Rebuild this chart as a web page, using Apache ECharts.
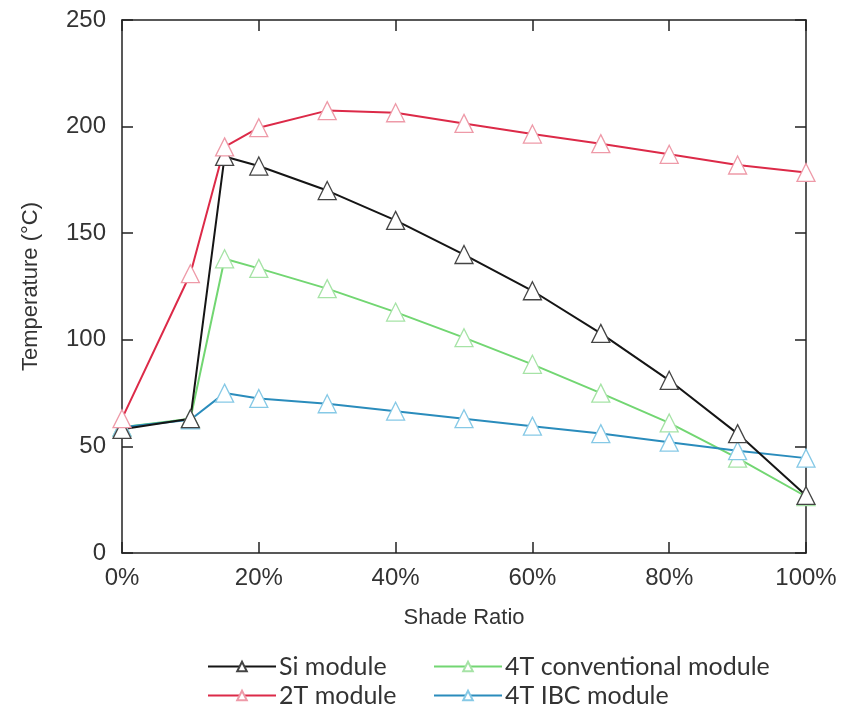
<!DOCTYPE html>
<html>
<head>
<meta charset="utf-8">
<script src="https://cdn.jsdelivr.net/npm/echarts@6/dist/echarts.min.js"></script>
<style>
  html, body { margin: 0; padding: 0; background: #fff; }
  #chart { width: 846px; height: 715px; }
</style>
</head>
<body>
<div id="chart"></div>
<script>
// shade ratio (%)
var shadeRatio = [0, 10, 15, 20, 30, 40, 50, 60, 70, 80, 90, 100]

// temperature (°C)
var siModule = [58, 63, 186, 181.5, 170, 156, 140, 123, 103, 81, 56, 27]
var module2T = [63, 131, 190.5, 199.5, 207.5, 206.5, 201.5, 196.5, 192, 187, 182, 178.5]
var conv4T = [59, 63, 138, 133.5, 124, 113, 101, 88.5, 75, 61, 44.5, 26.5]
var ibc4T = [59, 62.5, 75, 72.5, 70, 66.5, 63, 59.5, 56, 52, 48, 44.5]

var yTicks = [0, 50, 100, 150, 200, 250]

function pairs(ys) {
    return shadeRatio.map(function (x, i) { return [x, ys[i]] })
}

function makeSeries(name, ys, lineColor, markColor) {
    return {
        name: name,
        type: 'line',
        data: pairs(ys),
        symbol: 'triangle',
        symbolSize: 18,
        lineStyle: { color: lineColor, width: 2 },
        itemStyle: { color: '#fff', borderColor: markColor, borderWidth: 1.3 },
        emphasis: { disabled: true },
        z: 3
    }
}

// one legend per entry so the 2x2 layout matches
function legendAt(name, left, top) {
    return {
        left: left, top: top,
        data: [name],
        itemWidth: 68, itemHeight: 12,
        textStyle: { fontFamily: 'Lato, sans-serif', fontSize: 25, color: '#333', padding: [0, 0, 0, -2] }
    }
}

var axisFont = { fontFamily: '"Liberation Sans", Arial, sans-serif', fontSize: 24, color: '#333' }
var nameFont = { fontFamily: '"Liberation Sans", Arial, sans-serif', fontSize: 22, color: '#333' }
var frameLine = { show: true, onZero: false, lineStyle: { color: '#222', width: 1.5 } }
var inTick = { inside: true, length: 11, lineStyle: { color: '#222', width: 1.5 } }

var chart = echarts.init(document.getElementById('chart'))

chart.setOption({
    animation: false,
    backgroundColor: '#fff',
    grid: { left: 122, right: 40, top: 20, bottom: 162 },
    xAxis: [
        {
            type: 'value', min: 0, max: 100, interval: 20,
            axisLine: frameLine,
            axisTick: inTick,
            splitLine: { show: false },
            axisLabel: Object.assign({ formatter: '{value}%', margin: 13 }, axisFont),
            name: 'Shade Ratio',
            nameLocation: 'middle',
            nameGap: 54,
            nameTextStyle: nameFont
        },
        {
            type: 'value', position: 'top', min: 0, max: 100, interval: 20,
            axisLine: frameLine,
            axisTick: inTick,
            axisLabel: { show: false },
            splitLine: { show: false }
        }
    ],
    yAxis: [
        {
            type: 'value', min: yTicks[0], max: yTicks[yTicks.length - 1], interval: 50,
            axisLine: frameLine,
            axisTick: inTick,
            splitLine: { show: false },
            axisLabel: Object.assign({ margin: 16 }, axisFont),
            name: 'Temperature (°C)',
            nameLocation: 'middle',
            nameGap: 80,
            nameRotate: 90,
            nameTextStyle: nameFont
        },
        {
            type: 'value', position: 'right', min: yTicks[0], max: yTicks[yTicks.length - 1], interval: 50,
            axisLine: frameLine,
            axisTick: inTick,
            axisLabel: { show: false },
            splitLine: { show: false }
        }
    ],
    legend: [
        legendAt('Si module', 202, 649),
        legendAt('2T module', 202, 678),
        legendAt('4T conventional module', 428, 649),
        legendAt('4T IBC module', 428, 678)
    ],
    series: [
        makeSeries('4T conventional module', conv4T, '#72d672', '#a6e3a6'),
        makeSeries('4T IBC module', ibc4T, '#2a8cbc', '#86c9e6'),
        makeSeries('Si module', siModule, '#151515', '#444'),
        makeSeries('2T module', module2T, '#dc2a48', '#ee9aa8')
    ]
})
</script>
</body>
</html>
